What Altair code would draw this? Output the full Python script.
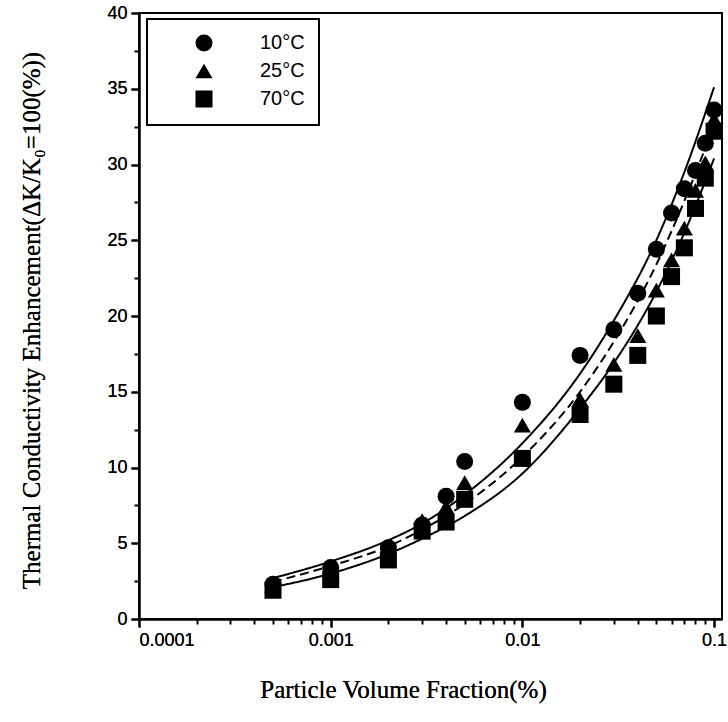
import altair as alt
import pandas as pd

# ---- data ----
series_names = ["10°C", "25°C", "70°C"]
x_vals = [0.0005, 0.001, 0.002, 0.003, 0.004, 0.005, 0.01, 0.02, 0.03, 0.04,
          0.05, 0.06, 0.07, 0.08, 0.09, 0.1]
y_10 = [2.3, 3.4, 4.7, 6.2, 8.1, 10.4, 14.3, 17.4, 19.1, 21.5, 24.4, 26.8, 28.4, 29.6, 31.4, 33.6]
y_25 = [2.2, 3.2, 4.4, 6.5, 7.4, 9.0, 12.8, 14.5, 16.8, 18.7, 21.7, 23.7, 25.8, 28.3, 30.1, 33.0]
y_70 = [1.9, 2.6, 3.9, 5.8, 6.4, 7.9, 10.6, 13.5, 15.5, 17.4, 20.0, 22.6, 24.5, 27.1, 29.1, 32.2]

fit_names = ["fit 10°C", "fit 25°C", "fit 70°C"]
fit_x = [0.0005, 0.001, 0.002, 0.003, 0.005, 0.01, 0.02, 0.03, 0.05, 0.07, 0.1]
fit_10 = [2.7, 3.8, 5.2, 6.3, 8.2, 11.6, 16.2, 19.7, 25.0, 29.5, 35.1]
fit_25 = [2.45, 3.5, 4.8, 5.9, 7.6, 10.7, 15.0, 18.3, 23.4, 27.6, 32.6]
fit_70 = [2.1, 3.0, 4.3, 5.3, 6.8, 9.6, 13.9, 16.9, 21.6, 25.5, 30.4]

x_major = [0.0001, 0.001, 0.01, 0.1]
x_minor = [0.0002, 0.0003, 0.0004, 0.0005, 0.0006, 0.0007, 0.0008, 0.0009,
           0.002, 0.003, 0.004, 0.005, 0.006, 0.007, 0.008, 0.009,
           0.02, 0.03, 0.04, 0.05, 0.06, 0.07, 0.08, 0.09]
y_major = [0, 5, 10, 15, 20, 25, 30, 35, 40]
y_minor = [2.5, 7.5, 12.5, 17.5, 22.5, 27.5, 32.5, 37.5]

# ---- tables ----
pts = pd.DataFrame({
    "x": x_vals * 3,
    "y": y_10 + y_25 + y_70,
    "series": [series_names[0]] * len(x_vals) + [series_names[1]] * len(x_vals) + [series_names[2]] * len(x_vals),
})
fits = pd.DataFrame({
    "x": fit_x * 3,
    "y": fit_10 + fit_25 + fit_70,
    "fit": [fit_names[0]] * len(fit_x) + [fit_names[1]] * len(fit_x) + [fit_names[2]] * len(fit_x),
})

SANS = "Liberation Sans"
SERIF = "Liberation Serif"

xscale = alt.Scale(type="log", domain=[0.0001, 0.11], nice=False)
yscale = alt.Scale(domain=[0, 40], nice=False, zero=False)

x_axis_major = alt.Axis(
    orient="bottom", values=x_major, format="~g", tickSize=8, labelPadding=4,
    labelFontSize=18, labelFont=SANS, labelColor="black", labelFlush=True,
    title="Particle Volume Fraction(%)", titleFont=SERIF, titleFontSize=25,
    titleFontWeight="normal", titleColor="black", titleX=264, titleY=58,
    titleAlign="center", titleBaseline="top", grid=False,
)
y_axis_major = alt.Axis(
    orient="left", values=y_major, tickSize=8, labelPadding=4,
    labelFontSize=18, labelFont=SANS, labelColor="black",
    title="Thermal Conductivity Enhancement(ΔK/K₀=100(%))", titleFont=SERIF,
    titleFontSize=25, titleFontWeight="normal", titleColor="black",
    titleX=-100, titleY=307, titleAlign="center", titleBaseline="alphabetic",
    titleAngle=270, grid=False,
)
x_axis_minor = alt.Axis(orient="bottom", values=x_minor, tickSize=5, labels=False,
                        domain=False, title=None, grid=False)
y_axis_minor = alt.Axis(orient="left", values=y_minor, tickSize=5, labels=False,
                        domain=False, title=None, grid=False)

minor = alt.Chart(pts).mark_point(opacity=0).encode(
    x=alt.X("x:Q", scale=xscale, axis=x_axis_minor),
    y=alt.Y("y:Q", scale=yscale, axis=y_axis_minor),
)

lines = alt.Chart(fits).mark_line(color="black", strokeWidth=2, interpolate="monotone").encode(
    x=alt.X("x:Q", scale=xscale, axis=x_axis_major),
    y=alt.Y("y:Q", scale=yscale, axis=y_axis_major),
    detail="fit:N",
    strokeDash=alt.StrokeDash(
        "fit:N",
        scale=alt.Scale(domain=fit_names, range=[[1, 0], [9, 5], [1, 0]]),
        legend=None,
    ),
)

points = alt.Chart(pts).mark_point(filled=True, size=290, color="black", opacity=1).encode(
    x=alt.X("x:Q", scale=xscale, axis=x_axis_major),
    y=alt.Y("y:Q", scale=yscale, axis=y_axis_major),
    shape=alt.Shape(
        "series:N",
        scale=alt.Scale(domain=series_names, range=["circle", "triangle-up", "square"]),
        legend=alt.Legend(
            title=None, orient="none", legendX=8, legendY=6,
            padding=14, symbolOffset=33, labelOffset=46,
            symbolSize=290, symbolFillColor="black", symbolStrokeColor="black",
            symbolType="circle",
            labelFont=SANS, labelFontSize=20, labelColor="black",
            rowPadding=5, strokeColor="black",
        ),
    ),
)

chart = (
    alt.layer(minor, lines, points)
    .resolve_axis(x="independent", y="independent")
    .resolve_legend(shape="independent", strokeDash="independent")
    .properties(
        width=583, height=606,
        autosize=alt.AutoSizeParams(type="none"),
        padding={"left": 139, "top": 13, "right": 6, "bottom": 103},
        background="white",
    )
    .configure_view(stroke="black", strokeWidth=2)
    .configure_axis(domainColor="black", domainWidth=2, tickColor="black", tickWidth=2)
    .configure_legend(strokeWidth=2)
)

chart.save("out.html", embed_options={"renderer": "svg", "actions": False})
